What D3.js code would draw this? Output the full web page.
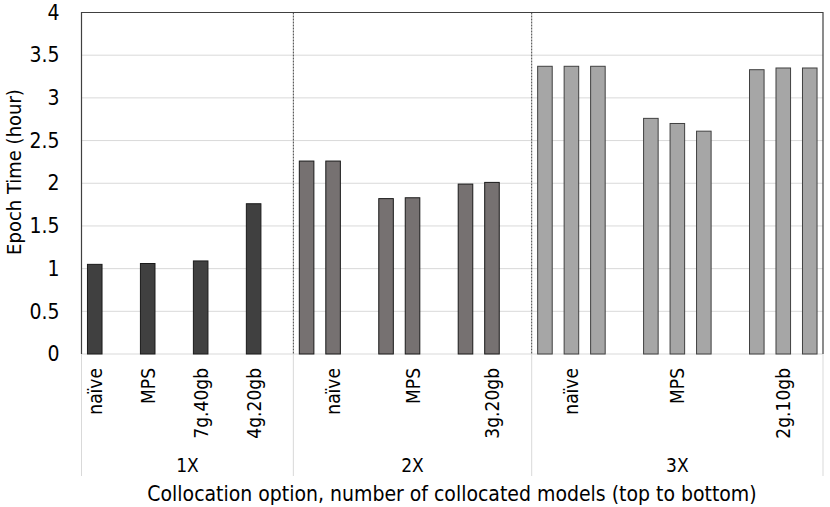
<!DOCTYPE html>
<html>
<head>
<meta charset="utf-8">
<script src="https://cdn.jsdelivr.net/npm/d3@7"></script>
<style>
  body { margin: 0; background: #fff; }
  svg text { font-family: "Liberation Sans Narrow", "DejaVu Sans Condensed", sans-serif; fill: #000; }
</style>
</head>
<body>
<svg id="chart" width="830" height="507"></svg>
<script>
// groups of collocated models and their slot labels (blank = spacer / unlabeled bar)
const groups = ['1X', '2X', '3X']
const slots1X = ['naïve', '', 'MPS', '', '7g.40gb', '', '4g.20gb', '']
const values1X = [1.05, null, 1.06, null, 1.09, null, 1.76, null]
const slots2X = ['', 'naïve', '', '', 'MPS', '', '', '3g.20gb', '']
const values2X = [2.26, 2.26, null, 1.82, 1.83, null, 1.99, 2.01, null]
const slots3X = ['', 'naïve', '', '', '', 'MPS', '', '', '', '2g.10gb', '']
const values3X = [3.37, 3.37, 3.37, null, 2.76, 2.70, 2.61, null, 3.33, 3.35, 3.35]
const yTicks = [0, 0.5, 1, 1.5, 2, 2.5, 3, 3.5, 4]
const fills = ['#404040', '#767171', '#a6a6a6']

const margin = { top: 12.5, right: 7, bottom: 153, left: 81.5 }
const width = 830
const height = 507

const slots = []
;[[slots1X, values1X], [slots2X, values2X], [slots3X, values3X]].forEach(([labels, vals], g) => {
  labels.forEach((label, i) => {
    slots.push({ key: g + '-' + i, group: g, label, value: vals[i] })
  })
})

const xScale = d3.scaleBand()
  .domain(slots.map(d => d.key))
  .range([margin.left, width - margin.right])
  .paddingInner(0)
const yScale = d3.scaleLinear()
  .domain([0, 4])
  .range([height - margin.bottom, margin.top])

const chart = d3.select('#chart')
const y0 = yScale(0)

// gridlines
chart.append('g')
  .selectAll('line')
  .data(yTicks)
  .join('line')
  .attr('x1', margin.left).attr('x2', width - margin.right)
  .attr('y1', d => yScale(d)).attr('y2', d => yScale(d))
  .style('stroke', '#d9d9d9')
  .style('stroke-width', 1)

// y axis labels
const yAxis = d3.axisLeft(yScale).tickValues(yTicks).tickSize(0).tickPadding(22).tickFormat(d3.format('~g'))
chart.append('g')
  .attr('transform', `translate(${margin.left}, 0)`)
  .call(yAxis)
  .call(g => g.select('.domain').remove())
  .call(g => g.selectAll('text').style('font-size', '21px'))

// group boundaries
const groupEdges = groups.map((g, i) => {
  const keys = slots.filter(d => d.group === i)
  const x0 = xScale(keys[0].key)
  const x1 = xScale(keys[keys.length - 1].key) + xScale.bandwidth()
  return { name: g, x0, x1 }
})

// category axis divider lines
chart.append('g')
  .selectAll('line')
  .data([groupEdges[0].x0].concat(groupEdges.map(d => d.x1)))
  .join('line')
  .attr('x1', d => d).attr('x2', d => d)
  .attr('y1', y0).attr('y2', 476)
  .style('stroke', '#d9d9d9')

// dashed separators between groups
chart.append('g')
  .selectAll('line')
  .data(groupEdges.slice(0, -1))
  .join('line')
  .attr('x1', d => d.x1).attr('x2', d => d.x1)
  .attr('y1', margin.top).attr('y2', y0)
  .style('stroke', '#404040')
  .style('stroke-width', 1)
  .style('stroke-dasharray', '2,1')

// bars
const barW = xScale.bandwidth() * 0.55
chart.append('g')
  .selectAll('rect')
  .data(slots.filter(d => d.value !== null))
  .join('rect')
  .attr('x', d => xScale(d.key) + (xScale.bandwidth() - barW) / 2)
  .attr('y', d => yScale(d.value))
  .attr('width', barW)
  .attr('height', d => y0 - yScale(d.value))
  .style('fill', d => fills[d.group])
  .style('stroke', d => d.group === 2 ? '#404040' : '#1a1a1a')
  .style('stroke-width', 1)

// plot frame
chart.append('path')
  .attr('d', `M${margin.left},${y0}V${margin.top}H${width - margin.right}V${y0}`)
  .style('fill', 'none')
  .style('stroke', '#404040')
  .style('stroke-width', 1.2)

// slot labels (rotated)
chart.append('g')
  .selectAll('text')
  .data(slots.filter(d => d.label))
  .join('text')
  .attr('transform', d => `translate(${xScale(d.key) + xScale.bandwidth() / 2 + 7}, 368) rotate(-90)`)
  .attr('text-anchor', 'end')
  .style('font-size', '19px')
  .text(d => d.label)

// group labels
chart.append('g')
  .selectAll('text')
  .data(groupEdges)
  .join('text')
  .attr('x', d => (d.x0 + d.x1) / 2)
  .attr('y', 472)
  .attr('text-anchor', 'middle')
  .style('font-size', '19px')
  .text(d => d.name)

// axis titles
chart.append('text')
  .attr('x', 452)
  .attr('y', 501)
  .attr('text-anchor', 'middle')
  .style('font-size', '21px')
  .text('Collocation option, number of collocated models (top to bottom)')

chart.append('text')
  .attr('transform', 'translate(21, 172) rotate(-90)')
  .attr('text-anchor', 'middle')
  .style('font-size', '20px')
  .text('Epoch Time (hour)')
</script>
</body>
</html>
